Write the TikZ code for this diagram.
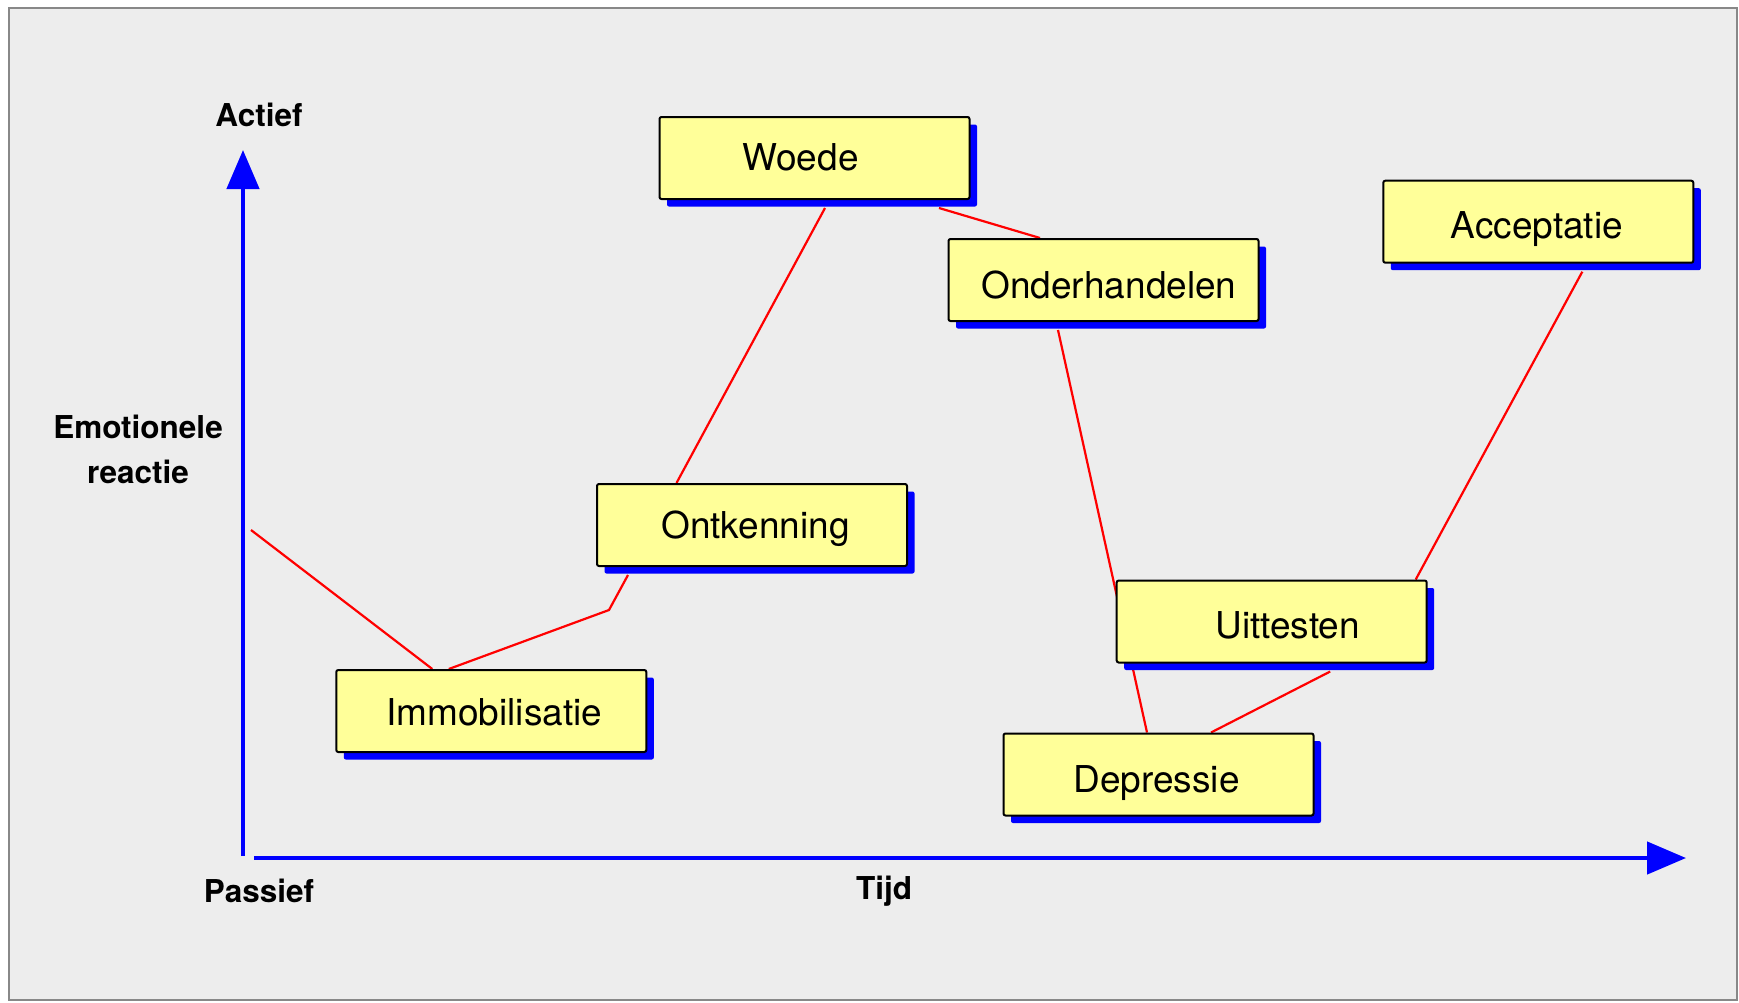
\documentclass[tikz,border=0pt]{standalone}
\usepackage{fontspec}
\setmainfont{TeX Gyre Heros}
\usetikzlibrary{arrows.meta,shadows}
\definecolor{panel}{RGB}{237,237,237}
\definecolor{frame}{RGB}{136,136,136}
\definecolor{boxfill}{RGB}{255,255,153}
\pgfdeclarelayer{bg}
\pgfdeclarelayer{lines}
\pgfsetlayers{bg,lines,main}
% text moved sideways inside its box by half of #1
\newcommand\offsettext[2]{\makebox[0pt]{\hspace*{#1}#2}}
\tikzset{
  stage/.style={draw=black, line width=2pt, fill=boxfill, rounded corners=2pt,
    minimum width=310pt, minimum height=82pt, inner sep=0pt,
    text height=26.6pt, text depth=0pt,
    font=\fontsize{37}{44}\selectfont,
    drop shadow={fill=blue, opacity=1, shadow xshift=7.5pt, shadow yshift=-7.5pt}},
  axislabel/.style={font=\fontsize{31.5}{45}\selectfont\bfseries, align=center, inner sep=0pt},
  axis/.style={draw=blue, line width=4.5pt, -{Triangle[length=39pt,width=32pt]}},
  path/.style={draw=red, line width=2.2pt, line join=miter}
}
\begin{document}
\begin{tikzpicture}[x=1pt,y=-1pt]
\useasboundingbox (0,0) rectangle (1739,1002);
\begin{pgfonlayer}{bg}
  \draw[frame, line width=2pt, fill=panel] (9,8) rectangle (1737,1000);
\end{pgfonlayer}

% axes
\coordinate (ybot) at (243,856);
\coordinate (ytop) at (243,150);
\coordinate (xleft) at (254,858);
\coordinate (xright) at (1686,858);
\draw[axis] (ybot) -- (ytop);
\draw[axis] (xleft) -- (xright);

\node[axislabel] (actief) at (259,115) {Actief};
\node[axislabel] (passief) at (259,891) {Passief};
\node[axislabel] (tijd) at (884,891) {Tijd};
\node[axislabel] (emo) at (138,449) {Emotionele\\reactie};

% stages
\node[stage, text height=24.6pt] (woede) at (814.5,158) {\offsettext{-28pt}{Woede}};
\node[stage, text height=36pt] (onder) at (1103.5,280) {\offsettext{11pt}{Onderhandelen}};
\node[stage, text height=33.2pt] (acc) at (1538.3,221.7) {\offsettext{-3pt}{Acceptatie}};
\node[stage] (ontk) at (752,525) {\offsettext{7pt}{Ontkenning}};
\node[stage, text height=28pt] (immob) at (491.3,711) {\offsettext{6pt}{Immobilisatie}};
\node[stage, text height=33.6pt] (uitt) at (1271.7,621.5) {\offsettext{32pt}{Uittesten}};
\node[stage, text height=36pt] (depr) at (1158.5,774.5) {\offsettext{-4pt}{Depressie}};

% course of the reaction
\coordinate (start) at (251,530);
\coordinate (kink) at (609,610);
\begin{pgfonlayer}{lines}
  \draw[path] (start) -- ([xshift=-59pt]immob.north);
  \draw[path] ([xshift=-42.5pt]immob.north) -- (kink)
     -- ([xshift=-124pt,yshift=-8pt]ontk.south);
  \draw[path] ([xshift=-75.5pt]ontk.north) -- ([xshift=10.5pt,yshift=-8pt]woede.south);
  \draw[path] ([xshift=124.5pt,yshift=-8pt]woede.south) -- ([xshift=-63.5pt]onder.north);
  \draw[path] ([xshift=-45.5pt,yshift=-8pt]onder.south) -- ([xshift=-11.5pt]depr.north);
  \draw[path] ([xshift=52.5pt]depr.north) -- ([xshift=58.5pt,yshift=-8pt]uitt.south);
  \draw[path] ([xshift=144pt]uitt.north) -- ([xshift=44pt,yshift=-8pt]acc.south);
\end{pgfonlayer}
\end{tikzpicture}
\end{document}
